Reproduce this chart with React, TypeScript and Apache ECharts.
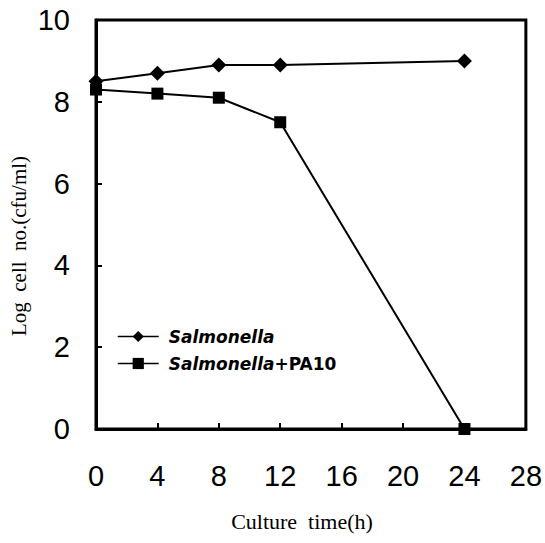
import React, { useEffect, useRef } from "react";
import * as echarts from "echarts";

const hours = [0, 4, 8, 12, 24];
const salmonella = [8.5, 8.7, 8.9, 8.9, 9.0];
const salmonellaPA10 = [8.3, 8.2, 8.1, 7.5, 0];
const seriesNames = ["Salmonella", "Salmonella+PA10"];
const xTitle = "Culture  time(h)";
const yTitle = "Log  cell  no.(cfu/ml)";

export default function App() {
  const ref = useRef<HTMLDivElement>(null);
  useEffect(() => {
    document.body.style.margin = "0";
    const chart = echarts.init(ref.current!, null, { renderer: "svg" });
    const pair = (ys: number[]) => hours.map((h, i) => [h, ys[i]]);
    chart.setOption({
      animation: false,
      backgroundColor: "#fff",
      grid: {
        left: 96,
        top: 20,
        right: 18,
        bottom: 114,
        show: true,
        borderColor: "#000",
        borderWidth: 3,
        backgroundColor: "transparent",
      },
      xAxis: {
        type: "value",
        min: 0,
        max: 28,
        interval: 4,
        axisLine: { lineStyle: { color: "#000", width: 3 } },
        axisTick: { inside: true, length: 6, lineStyle: { color: "#000", width: 2 } },
        axisLabel: { color: "#000", fontFamily: "Liberation Sans", fontSize: 29, margin: 32 },
        splitLine: { show: false },
      },
      yAxis: {
        type: "value",
        min: 0,
        max: 10,
        interval: 2,
        axisLine: { show: true, lineStyle: { color: "#000", width: 3 } },
        axisTick: { show: true, inside: true, length: 6, lineStyle: { color: "#000", width: 2 } },
        axisLabel: { color: "#000", fontFamily: "Liberation Sans", fontSize: 29, margin: 26 },
        splitLine: { show: false },
      },
      legend: {
        data: seriesNames,
        orient: "vertical",
        left: 112,
        top: 323,
        itemWidth: 41,
        itemHeight: 14,
        itemGap: 10,
        lineStyle: { width: 1.5 },
        formatter: (name: string) =>
          name === "Salmonella" ? "{i|Salmonella}" : "{i|Salmonella}{n|+PA10}",
        textStyle: {
          color: "#000",
          padding: [0, 0, 0, 5],
          rich: {
            i: { fontFamily: "DejaVu Sans", fontStyle: "italic", fontWeight: "bold", fontSize: 17, color: "#000" },
            n: { fontFamily: "DejaVu Sans", fontWeight: "bold", fontSize: 17, color: "#000" },
          },
        },
      },
      series: [
        {
          name: seriesNames[0],
          type: "line",
          data: pair(salmonella),
          symbol: "diamond",
          symbolSize: 15,
          lineStyle: { color: "#000", width: 2 },
          itemStyle: { color: "#000" },
        },
        {
          name: seriesNames[1],
          type: "line",
          data: pair(salmonellaPA10),
          symbol: "rect",
          symbolSize: 12,
          lineStyle: { color: "#000", width: 2 },
          itemStyle: { color: "#000" },
        },
      ],
      graphic: [
        {
          type: "text",
          x: 302,
          y: 521,
          style: {
            text: xTitle,
            fill: "#000",
            font: "22px 'Liberation Serif'",
            textAlign: "center",
            textVerticalAlign: "middle",
          },
        },
        {
          type: "text",
          x: 19,
          y: 246,
          rotation: Math.PI / 2,
          style: {
            text: yTitle,
            fill: "#000",
            font: "21px 'Liberation Serif'",
            textAlign: "center",
            textVerticalAlign: "middle",
          },
        },
      ],
    });
    return () => chart.dispose();
  }, []);
  return <div ref={ref} style={{ width: 545, height: 543 }} />;
}
